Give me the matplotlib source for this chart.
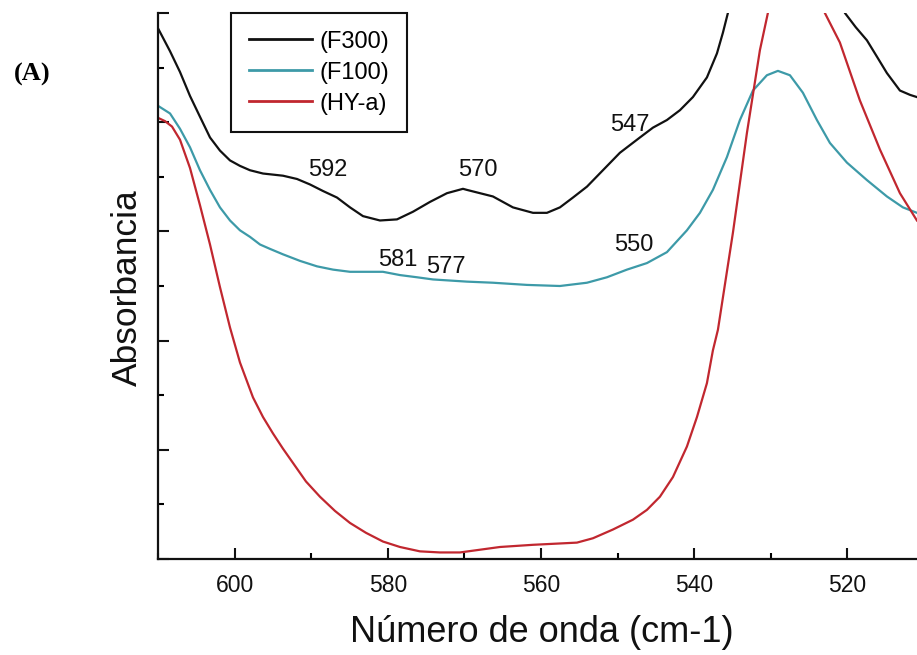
import matplotlib
matplotlib.use('Agg')
import matplotlib.pyplot as plt
from matplotlib.ticker import MultipleLocator

plt.rcParams['font.family'] = ['Liberation Sans', 'DejaVu Sans']

# ---- data ----
wn_f300 = [610.00, 608.43, 607.13, 605.82, 604.52, 603.21, 601.91, 600.60, 599.30, 597.99,
           596.29, 593.68, 591.85, 590.16, 588.46, 586.63, 584.93, 583.24, 581.02, 578.80,
           576.71, 574.49, 572.27, 570.18, 569.66, 566.27, 563.66, 561.04, 559.22, 557.52,
           555.82, 553.99, 551.91, 549.69, 547.08, 545.38, 543.55, 541.85, 540.16, 538.33,
           537.02, 536.24, 535.59, 534.50, 530.00, 525.00, 522.00, 520.31, 518.90, 517.44,
           516.13, 514.83, 513.13, 511.80, 510.91]
abs_f300 = [4.86, 4.65, 4.46, 4.24, 4.05, 3.86, 3.74, 3.65, 3.60, 3.56,
            3.53, 3.51, 3.48, 3.43, 3.37, 3.31, 3.22, 3.14, 3.10, 3.11,
            3.18, 3.27, 3.35, 3.39, 3.38, 3.32, 3.22, 3.17, 3.17, 3.22,
            3.31, 3.41, 3.56, 3.72, 3.86, 3.95, 4.02, 4.11, 4.23, 4.41,
            4.63, 4.82, 5.00, 5.40, 6.50, 6.30, 5.50, 5.00, 4.87, 4.75,
            4.60, 4.45, 4.29, 4.25, 4.23]

wn_f100 = [610.00, 608.43, 607.13, 605.82, 604.52, 603.21, 601.91, 600.60, 599.30, 597.99,
           596.68, 595.38, 593.68, 591.46, 589.24, 587.15, 584.93, 582.72, 580.63, 578.41,
           576.19, 574.10, 571.88, 569.66, 566.27, 561.83, 557.52, 553.99, 551.38, 548.77,
           546.16, 543.55, 540.94, 539.24, 537.55, 535.72, 534.02, 532.32, 530.50, 529.06,
           527.49, 525.80, 523.97, 522.27, 520.05, 517.44, 514.83, 512.74, 510.91]
abs_f100 = [4.15, 4.08, 3.94, 3.77, 3.56, 3.38, 3.22, 3.10, 3.01, 2.95,
            2.88, 2.84, 2.79, 2.73, 2.68, 2.65, 2.63, 2.63, 2.63, 2.60,
            2.58, 2.56, 2.55, 2.54, 2.53, 2.51, 2.50, 2.53, 2.58, 2.65,
            2.71, 2.81, 3.01, 3.17, 3.38, 3.68, 4.02, 4.29, 4.43, 4.47,
            4.43, 4.27, 4.02, 3.81, 3.63, 3.47, 3.32, 3.22, 3.17]

wn_hya = [610.00, 609.09, 608.17, 607.13, 605.82, 604.52, 603.21, 601.91, 600.60, 599.30,
          597.60, 596.29, 594.99, 593.68, 592.38, 590.68, 588.85, 586.89, 584.93, 582.85,
          580.63, 578.41, 575.80, 573.19, 570.57, 565.35, 561.04, 555.30, 553.21, 550.60,
          547.99, 546.16, 544.47, 542.77, 540.94, 539.63, 538.33, 537.55, 536.89, 534.93,
          533.11, 531.41, 530.37, 529.00, 526.00, 523.80, 522.93, 520.97, 518.36, 515.74,
          513.13, 510.91]
abs_hya = [4.04, 4.01, 3.96, 3.84, 3.58, 3.24, 2.88, 2.49, 2.12, 1.80,
           1.48, 1.30, 1.15, 1.01, 0.88, 0.71, 0.57, 0.44, 0.33, 0.24,
           0.16, 0.11, 0.07, 0.06, 0.06, 0.11, 0.13, 0.15, 0.19, 0.27,
           0.36, 0.45, 0.57, 0.75, 1.03, 1.30, 1.61, 1.91, 2.10, 2.99,
           3.90, 4.66, 5.00, 5.80, 6.20, 5.40, 5.00, 4.73, 4.20, 3.75,
           3.35, 3.10]

series_labels = ['(F300)', '(F100)', '(HY-a)']
series_colors = ['#111111', '#3d9aa8', '#c1272f']

peak_labels = ['592', '570', '547', '581', '577', '550']
peak_x = [587.8, 568.2, 548.4, 578.7, 572.4, 547.9]
peak_y = [3.56, 3.56, 3.97, 2.74, 2.67, 2.88]

x_major = [600, 580, 560, 540, 520]

# ---- figure ----
fig = plt.figure(figsize=(9.17, 6.55), dpi=100)
ax = fig.add_axes([158 / 917, 96 / 655, 1 - 158 / 917, (559 - 13) / 655])

for wn, ab, lab, col in zip([wn_f300, wn_f100, wn_hya],
                            [abs_f300, abs_f100, abs_hya],
                            series_labels, series_colors):
    ax.plot(wn, ab, color=col, lw=1.6, label=lab, solid_joinstyle='round')

ax.set_xlim(610, 510.9)
ax.set_ylim(0, 5)

ax.set_xticks(x_major)
ax.xaxis.set_minor_locator(MultipleLocator(10))
ax.yaxis.set_major_locator(MultipleLocator(1))
ax.yaxis.set_minor_locator(MultipleLocator(0.5))
ax.set_yticklabels([])
ax.tick_params(axis='both', which='major', direction='in', length=8, width=1.5,
               labelsize=16.5, pad=11, colors='#111111')
ax.tick_params(axis='both', which='minor', direction='in', length=4.5, width=1.5)

for s in ['top', 'right']:
    ax.spines[s].set_visible(False)
for s in ['left', 'bottom']:
    ax.spines[s].set_linewidth(1.6)
    ax.spines[s].set_color('#111111')

for t, xx, yy in zip(peak_labels, peak_x, peak_y):
    ax.text(xx, yy, t, fontsize=17, ha='center', va='center', color='#111111')

ax.set_xlabel('Número de onda (cm-1)', fontsize=26, va='center', color='#111111')
ax.xaxis.set_label_coords((542 - 158) / 759, (559 - 632) / 546)
ax.set_ylabel('Absorbancia', fontsize=25.5, va='center', ha='center', color='#111111')
ax.yaxis.set_label_coords((127 - 158) / 759, (559 - 288) / 546)

leg = ax.legend(loc='upper left', bbox_to_anchor=(231 / 917, 1 - 13 / 655),
                bbox_transform=fig.transFigure, borderaxespad=0,
                fontsize=17, handlelength=2.7, handletextpad=0.3,
                labelspacing=0.38, borderpad=0.75, fancybox=False,
                framealpha=1, edgecolor='#111111')
leg.get_frame().set_linewidth(1.5)
for line in leg.get_lines():
    line.set_linewidth(2.0)

fig.text(32 / 917, 1 - 74 / 655, '(A)', fontsize=19, fontweight='bold',
         family=['Liberation Serif', 'DejaVu Serif'], ha='center', va='center')

fig.savefig('out.png', dpi=100)
